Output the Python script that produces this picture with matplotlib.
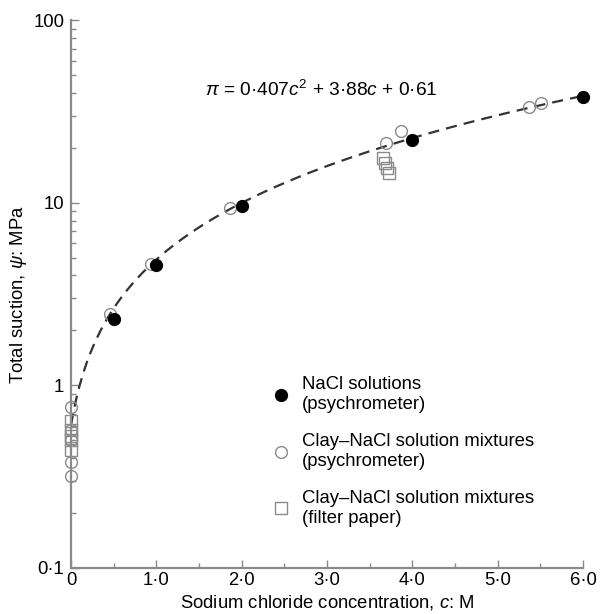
import matplotlib
matplotlib.use("Agg")
import matplotlib.pyplot as plt
import numpy as np
from matplotlib.ticker import FixedLocator, LogLocator, NullFormatter

plt.rcParams["font.family"] = ["Liberation Sans", "DejaVu Sans"]
plt.rcParams["mathtext.fontset"] = "custom"
plt.rcParams["mathtext.rm"] = "Liberation Sans"
plt.rcParams["mathtext.it"] = "Liberation Sans:italic"

# NaCl solutions (psychrometer)
nacl_c = [0.5, 1.0, 2.0, 4.0, 6.0]
nacl_psi = [2.3, 4.55, 9.6, 22.2, 37.8]

# Clay-NaCl mixtures (psychrometer)
clay_psy_c = [0, 0, 0, 0, 0, 0.46, 0.93, 1.86, 3.69, 3.87, 5.37, 5.51]
clay_psy_psi = [0.76, 0.57, 0.50, 0.38, 0.32, 2.45, 4.6, 9.4, 21.4, 24.6, 33.6, 35.0]

# Clay-NaCl mixtures (filter paper)
clay_fp_c = [0, 0, 0, 0, 0, 3.65, 3.68, 3.70, 3.72]
clay_fp_psi = [0.64, 0.57, 0.53, 0.50, 0.44, 17.6, 16.6, 15.6, 14.6]

# fitted curve pi = a c^2 + b c + d
fit_a, fit_b, fit_d = 0.407, 3.88, 0.61

x_ticks = [0, 1, 2, 3, 4, 5, 6]
x_ticklabels = ["0", "1·0", "2·0", "3·0", "4·0", "5·0", "6·0"]
y_ticks = [0.1, 1, 10, 100]
y_ticklabels = ["0·1", "1", "10", "100"]

grey = "#8a8a8a"
fs = 13.3

fig = plt.figure(figsize=(6.03, 6.14), dpi=100)
ax = fig.add_axes([0.118, 0.075, 0.849, 0.892])

cc = np.linspace(0, 6, 300)
ax.plot(cc, fit_a * cc**2 + fit_b * cc + fit_d, color="#333333", lw=1.6,
        dashes=(5, 3.2), zorder=2)

ax.plot(clay_fp_c, clay_fp_psi, "s", ms=8, mfc="none", mec=grey, mew=1.0,
        clip_on=False, zorder=3, label="Clay–NaCl solution mixtures\n(filter paper)")
ax.plot(clay_psy_c, clay_psy_psi, "o", ms=8.5, mfc="none", mec=grey, mew=1.0,
        clip_on=False, zorder=3, label="Clay–NaCl solution mixtures\n(psychrometer)")
ax.plot(nacl_c, nacl_psi, "o", ms=8.5, mfc="black", mec="black",
        clip_on=False, zorder=4, label="NaCl solutions\n(psychrometer)")

ax.set_yscale("log")
ax.set_xlim(0, 6)
ax.set_ylim(0.1, 100)

ax.xaxis.set_major_locator(FixedLocator(x_ticks))
ax.set_xticklabels(x_ticklabels, fontsize=fs)
ax.xaxis.set_minor_locator(FixedLocator(np.arange(0.5, 6, 1.0)))
ax.yaxis.set_major_locator(FixedLocator(y_ticks))
ax.set_yticklabels(y_ticklabels, fontsize=fs)
ax.yaxis.set_minor_locator(LogLocator(base=10, subs=np.arange(2, 10)))
ax.yaxis.set_minor_formatter(NullFormatter())

for side in ["top", "right"]:
    ax.spines[side].set_visible(False)
for side in ["left", "bottom"]:
    ax.spines[side].set_color(grey)
    ax.spines[side].set_linewidth(1.6)

ax.tick_params(which="both", direction="in", color=grey, width=1.0)
ax.tick_params(which="major", length=6)
ax.tick_params(axis="x", which="major", pad=3)
ax.tick_params(axis="y", which="major", pad=5)
ax.tick_params(which="minor", length=3.5)

ax.set_xlabel("Sodium chloride concentration, $c$: M", fontsize=fs, labelpad=3)
ax.set_ylabel("Total suction, $\\psi$: MPa", fontsize=fs, labelpad=3)

ax.text(0.262, 0.872, "$\\pi$ = 0·407$c^2$ + 3·88$c$ + 0·61", transform=ax.transAxes,
        fontsize=13.8, va="center", ha="left")

h, l = ax.get_legend_handles_labels()
leg = ax.legend(h[::-1], l[::-1], loc="upper left", bbox_to_anchor=(0.392, 0.35),
                frameon=False, fontsize=fs, handlelength=1.0, handletextpad=0.65,
                labelspacing=1.1, borderpad=0, borderaxespad=0)

fig.savefig("out.png", dpi=100)
